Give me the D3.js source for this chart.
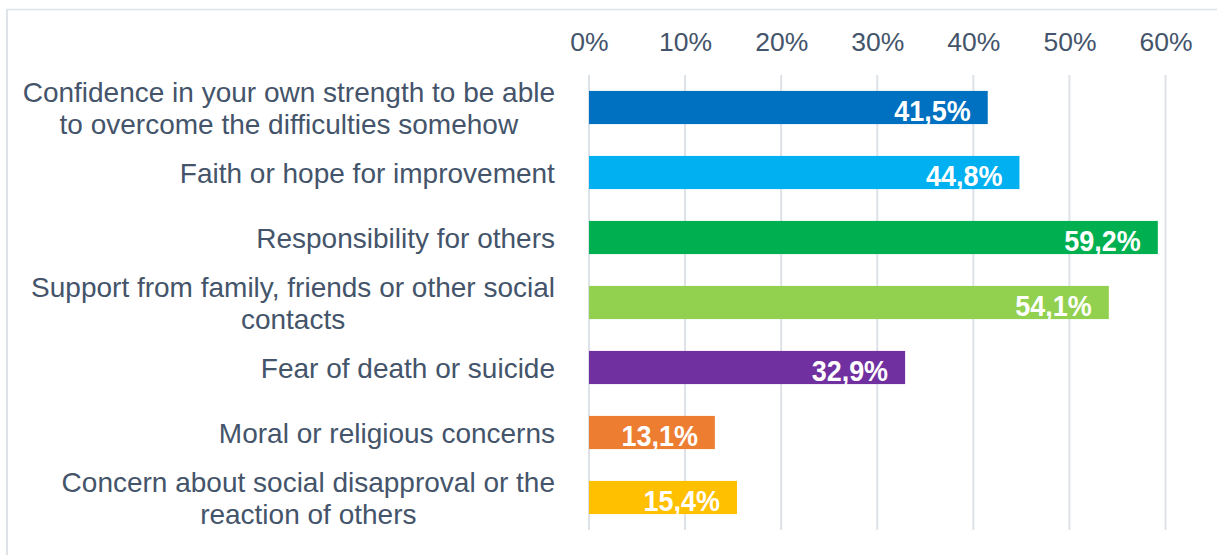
<!DOCTYPE html>
<html>
<head>
<meta charset="utf-8">
<script src="https://cdn.jsdelivr.net/npm/d3@7"></script>
<style>
  html, body { margin: 0; padding: 0; background: #fff; }
  svg { display: block; }
</style>
</head>
<body>
<svg id="chart" width="1217" height="555"></svg>
<script>
// Reasons that kept respondents going, share of answers (%)
const categories = [
  ["Confidence in your own strength to be able", "to overcome the difficulties somehow"],
  ["Faith or hope for improvement"],
  ["Responsibility for others"],
  ["Support from family, friends or other social", "contacts"],
  ["Fear of death or suicide"],
  ["Moral or religious concerns"],
  ["Concern about social disapproval or the", "reaction of others"]
];
const values = [41.5, 44.8, 59.2, 54.1, 32.9, 13.1, 15.4];
const valueLabels = ["41,5%", "44,8%", "59,2%", "54,1%", "32,9%", "13,1%", "15,4%"];
const colors = ["#0070C0", "#00B0F0", "#00B050", "#92D050", "#7030A0", "#ED7D31", "#FFC000"];
const ticks = [0, 10, 20, 30, 40, 50, 60];

const svg = d3.select("#chart");
const W = 1217, H = 555;
const margin = { top: 75, right: 51, bottom: 25, left: 589 };

// open frame: left and top edges only
const frameColor = "#dfe3e8";
svg.append("line").attr("x1", 7).attr("x2", 7).attr("y1", 9).attr("y2", H)
  .attr("stroke", frameColor).attr("stroke-width", 2);
svg.append("line").attr("x1", 6).attr("x2", W).attr("y1", 9.5).attr("y2", 9.5)
  .attr("stroke", frameColor).attr("stroke-width", 1.5);

const x = d3.scaleLinear().domain([0, 60]).range([margin.left, 1165.5]);
const idx = d3.range(categories.length);
const y = d3.scaleBand().domain(idx).range([margin.top, H - margin.bottom]).paddingInner(0.49).paddingOuter(0.245);

const textColor = "#44546A";
const labelFont = "Liberation Sans, Arial, sans-serif";

// gridlines
svg.append("g")
  .selectAll("line")
  .data(ticks)
  .join("line")
  .attr("x1", d => x(d))
  .attr("x2", d => x(d))
  .attr("y1", margin.top)
  .attr("y2", H - margin.bottom)
  .attr("stroke", "#dde1e8")
  .attr("stroke-width", 2);

// top axis labels
const axis = d3.axisTop(x).tickValues(ticks).tickSize(0).tickPadding(0).tickFormat(d => d + "%");
const gAxis = svg.append("g").attr("transform", "translate(0,51)").call(axis);
gAxis.select(".domain").remove();
gAxis.selectAll("text")
  .attr("dy", 0)
  .attr("fill", textColor)
  .style("font-family", labelFont)
  .style("font-size", "26.5px");

// bars
svg.append("g")
  .selectAll("rect")
  .data(idx)
  .join("rect")
  .attr("x", x(0))
  .attr("y", i => y(i))
  .attr("width", i => x(values[i]) - x(0))
  .attr("height", y.bandwidth())
  .attr("fill", i => colors[i]);

// value labels inside bar ends (bold, slightly condensed)
const squeeze = 0.93;
svg.append("g")
  .selectAll("text")
  .data(idx)
  .join("text")
  .attr("transform", i => `translate(${x(values[i]) - 17},${y(i) + y.bandwidth() / 2 + 13}) scale(${squeeze},1)`)
  .attr("text-anchor", "end")
  .attr("fill", "#fff")
  .style("font-family", labelFont)
  .style("font-weight", "bold")
  .style("font-size", "29px")
  .text(i => valueLabels[i]);

// category labels, right-aligned block with centred lines
const lineH = 32;
const gCat = svg.append("g");
idx.forEach(i => {
  const lines = categories[i];
  const cy = y(i) + y.bandwidth() / 2;
  const t = gCat.append("text")
    .attr("text-anchor", "middle")
    .attr("fill", textColor)
    .style("font-family", labelFont)
    .style("font-size", "28px");
  lines.forEach((ln, k) => {
    t.append("tspan")
      .attr("x", 0)
      .attr("y", cy + (k - (lines.length - 1) / 2) * lineH)
      .attr("dy", "0.38em")
      .text(ln);
  });
  const bb = t.node().getBBox();
  t.attr("transform", `translate(${555 - bb.width / 2},0)`);
});
</script>
</body>
</html>
